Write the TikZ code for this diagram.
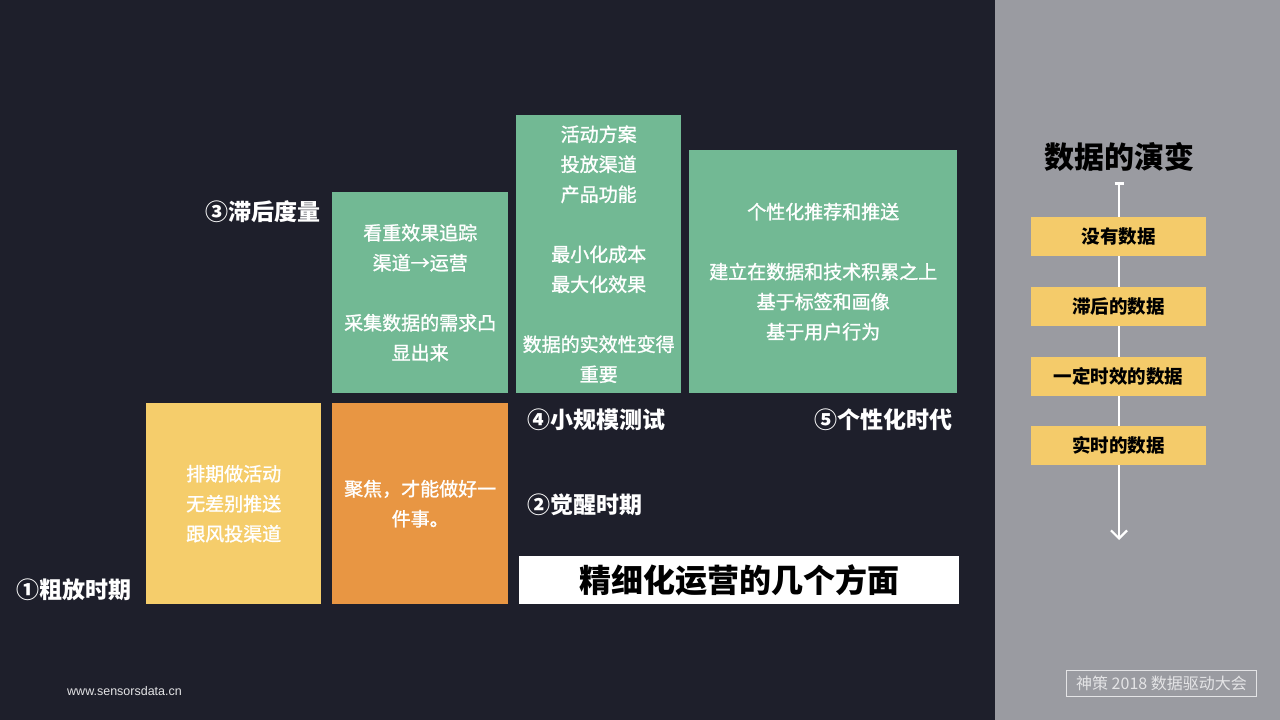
\documentclass[tikz,border=0pt]{standalone}
\usepackage{fontspec}
\setmainfont{Noto Sans CJK SC}
\newfontfamily\cjkmed{Noto Sans CJK SC}[FakeBold=1.3]
\newfontfamily\latinsans{Liberation Sans}
\usetikzlibrary{arrows.meta}
\definecolor{bgdark}{HTML}{1E1F2B}
\definecolor{panelgray}{HTML}{9A9BA1}
\definecolor{boxgreen}{HTML}{72B994}
\definecolor{boxyellow}{HTML}{F5CD6B}
\definecolor{boxorange}{HTML}{E89643}
\definecolor{evoyellow}{HTML}{F4CB6A}
\definecolor{logogray}{HTML}{E4E4E6}
\tikzset{
  stagebox/.style={anchor=north west, inner sep=0pt, align=center, text=white,
    font=\cjkmed\fontsize{19}{30}\selectfont},
  stagelabel/.style={inner sep=0pt, text=white, font=\bfseries\fontsize{23}{28}\selectfont},
  evobox/.style={fill=evoyellow, minimum width=175pt, minimum height=39pt, inner sep=0pt,
    text=black, font=\bfseries\fontsize{18.5}{22}\selectfont},
}
\begin{document}
\begin{tikzpicture}[x=1pt,y=-1pt]
\fill[bgdark] (0,0) rectangle (1280,720);
\useasboundingbox (0,0) rectangle (1280,720);
\fill[panelgray] (995,0) rectangle (1280,720);

% stage boxes
\node[stagebox, fill=boxyellow, minimum width=175pt, minimum height=201pt] (b1) at (146,403)
  {排期做活动\\无差别推送\\跟风投渠道};
\node[stagebox, fill=boxorange, minimum width=176pt, minimum height=201pt] (b2) at (332,403)
  {聚焦，才能做好一\\件事。};
\node[stagebox, fill=boxgreen, minimum width=176pt, minimum height=201pt] (b3) at (332,192)
  {看重效果追踪\\渠道→运营\\[30pt]采集数据的需求凸\\显出来};
\node[stagebox, fill=boxgreen, minimum width=165pt, minimum height=278pt] (b4) at (516,115)
  {活动方案\\投放渠道\\产品功能\\[30pt]最小化成本\\最大化效果\\[30pt]数据的实效性变得\\重要};
\node[stagebox, fill=boxgreen, minimum width=268pt, minimum height=243pt] (b5) at (689,150)
  {个性化推荐和推送\\[30pt]建立在数据和技术积累之上\\基于标签和画像\\基于用户行为};

% stage labels
\node[stagelabel, anchor=west] (l1) at (16,590) {①粗放时期};
\node[stagelabel, anchor=west] (l2) at (527,505) {②觉醒时期};
\node[stagelabel, anchor=east] (l3) at (321,212) {③滞后度量};
\node[stagelabel, anchor=west] (l4) at (527,420) {④小规模测试};
\node[stagelabel, anchor=east] (l5) at (953,420) {⑤个性化时代};

% title box
\node[fill=white, anchor=north west, minimum width=440pt, minimum height=48pt, inner sep=0pt,
  text=black, font=\bfseries\fontsize{32}{36}\selectfont] (title) at (519,556) {精细化运营的几个方面};

% right panel
\node[text=black, font=\bfseries\fontsize{30}{34}\selectfont, inner sep=0pt] (evotitle) at (1119,157) {数据的演变};
\coordinate (atop) at (1119,182);
\coordinate (abot) at (1119,540);
\draw[white, line width=2.2pt, {Bar[width=9pt,line width=2.5pt]}-{Straight Barb[length=8pt,width=16pt,line width=2.2pt]}] (atop) -- (abot);
\node[evobox] (e1) at (1118.5,236.5) {没有数据};
\node[evobox] (e2) at (1118.5,306.5) {滞后的数据};
\node[evobox] (e3) at (1118.5,376.5) {一定时效的数据};
\node[evobox] (e4) at (1118.5,445.5) {实时的数据};

% footer
\node[draw=logogray, line width=1pt, anchor=north west, minimum width=190pt, minimum height=26pt,
  inner sep=0pt, text=logogray, font=\fontsize{16}{18}\selectfont] (logo) at (1066,670) {神策 2018 数据驱动大会};
\node[anchor=west, inner sep=0pt, text=logogray, font=\latinsans\fontsize{12.5}{14}\selectfont] (url) at (67,691) {www.sensorsdata.cn};
\end{tikzpicture}
\end{document}
